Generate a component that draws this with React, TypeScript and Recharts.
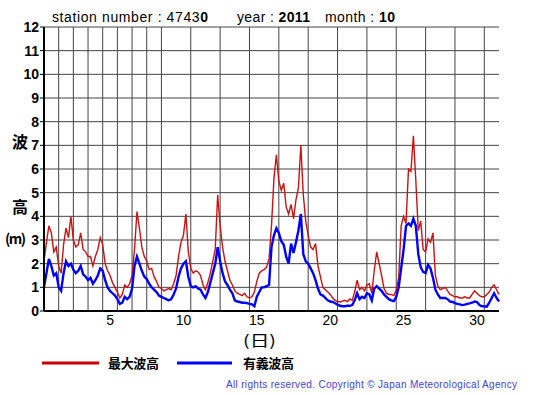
import { CartesianGrid, Line, LineChart, XAxis, YAxis } from "recharts";

// 4-hourly readings, Oct 1 00:00 .. Oct 31 24:00 (one row per day)
const maxWave = [
  2.1, 2.9, 3.6, 3.3, 2.5, 2.7,
  1.9, 1.6, 2.8, 3.5, 3.1, 4.0,
  3.0, 2.7, 2.8, 3.3, 2.6, 2.5,
  2.3, 2.3, 1.9, 2.3, 2.6, 3.1,
  2.8, 2.0, 1.7, 1.5, 1.2, 1.0,
  0.8, 0.55, 0.7, 1.1, 1.0, 1.15,
  1.5, 2.6, 4.2, 3.5, 2.7, 2.3,
  2.1, 1.75, 1.8, 1.45, 1.25, 1.0,
  0.95, 0.85, 0.9, 0.95, 0.9, 1.15,
  1.5, 2.3, 2.9, 3.2, 4.1, 2.5,
  1.8, 1.6, 1.7, 1.65, 1.5, 1.1,
  0.9, 1.2, 1.6, 2.1, 2.6, 4.9,
  3.6, 2.7, 2.1, 1.7, 1.3, 1.1,
  0.85, 0.75, 0.7, 0.65, 0.75, 0.6,
  0.55, 0.6, 0.8, 1.25, 1.6, 1.7,
  1.75, 1.85, 2.2, 3.6, 5.6, 6.6,
  5.5, 5.1, 5.4, 4.4, 4.1, 4.5,
  3.9, 4.7, 5.2, 7.0, 4.9, 3.8,
  3.2, 2.7, 2.6, 2.85, 1.9, 1.45,
  1.0, 0.9, 0.8, 0.7, 0.55, 0.45,
  0.4, 0.38, 0.42, 0.45, 0.4, 0.5,
  0.45, 0.8, 1.3, 0.9, 1.0, 0.85,
  1.1, 1.15, 0.75, 1.7, 2.5, 2.0,
  1.5, 0.95, 0.75, 0.7, 0.7, 0.65,
  0.9, 1.4, 3.6, 4.0, 3.7, 6.0,
  5.9, 7.4, 5.5, 3.4, 3.8, 2.6,
  2.5, 3.05, 2.9, 3.3, 1.5, 1.05,
  0.9, 0.95, 1.0, 0.85, 0.7, 0.65,
  0.6, 0.6, 0.55, 0.55, 0.6, 0.55,
  0.55, 0.7, 0.85, 0.75, 0.65, 0.6,
  0.6, 0.7, 0.8, 1.0, 1.1, 0.9,
  0.7,
];

const sigWave = [
  1.0, 1.6, 2.2, 1.9, 1.5, 1.6,
  1.0, 0.85, 1.6, 2.1, 1.9, 2.0,
  1.75, 1.6, 1.7, 1.9, 1.55, 1.45,
  1.3, 1.4, 1.15, 1.3, 1.5, 1.8,
  1.7, 1.3, 1.0, 0.85, 0.75, 0.65,
  0.5, 0.3, 0.35, 0.6, 0.5, 0.6,
  0.95, 1.9, 2.3, 2.0, 1.7, 1.45,
  1.35, 1.15, 1.0, 0.9, 0.8, 0.65,
  0.6, 0.55, 0.5, 0.45, 0.5, 0.7,
  0.95, 1.45, 1.8, 2.0, 2.1, 1.45,
  1.05, 1.0, 1.05, 0.95, 0.9, 0.7,
  0.55, 0.8, 1.2, 1.6, 2.0, 2.7,
  2.1, 1.6, 1.25, 1.1, 0.9, 0.75,
  0.45, 0.4, 0.38, 0.35, 0.35, 0.33,
  0.3, 0.28, 0.2, 0.6, 0.8, 1.0,
  1.0, 1.05, 1.1, 2.7, 3.2, 3.5,
  3.3, 2.95, 2.8, 2.3, 2.0, 2.85,
  2.45, 2.9, 3.4, 4.1, 2.4, 2.1,
  2.0, 1.8, 1.6, 1.3, 0.95, 0.7,
  0.65, 0.55, 0.45, 0.4, 0.38, 0.33,
  0.27, 0.22, 0.2, 0.2, 0.22, 0.22,
  0.25, 0.45, 0.75, 0.5, 0.6, 0.55,
  0.75, 0.7, 0.45, 0.95, 1.05, 0.95,
  0.85, 0.7, 0.6, 0.5, 0.45, 0.42,
  0.6, 1.0, 1.8, 2.6, 3.6, 3.7,
  3.6, 3.9, 3.6, 2.4, 1.85, 1.65,
  1.6, 1.95, 1.8, 1.4, 0.9, 0.7,
  0.55, 0.55, 0.55, 0.5, 0.4, 0.38,
  0.33, 0.3, 0.28, 0.25, 0.27, 0.3,
  0.32, 0.35, 0.4, 0.38, 0.25, 0.2,
  0.2, 0.18, 0.35, 0.55, 0.75, 0.55,
  0.4,
];

const dayLabels = [5, 10, 15, 20, 25, 30];
const heightTicks = [0, 1, 2, 3, 4, 5, 6, 7, 8, 9, 10, 11, 12];
const dayLines = Array.from({ length: 30 }, (_, i) => (i + 1) * 24);

const data = maxWave.map((v, i) => ({ h: i * 4, max: v, sig: sigWave[i] }));

const W = 555;
const H = 395;

export default function App() {
  return (
    <div style={{ position: "absolute", left: 0, top: 0, width: W, height: H, background: "#fff" }}>
      <LineChart
        width={W}
        height={H}
        data={data}
        margin={{ top: 27, right: 56, left: 0, bottom: 54 }}
      >
        <CartesianGrid
          stroke="#444"
          strokeWidth={1}
          verticalValues={dayLines}
          horizontalValues={heightTicks}
        />
        <XAxis
          dataKey="h"
          type="number"
          domain={[0, 744]}
          ticks={dayLabels.map((d) => (d - 0.5) * 24)}
          tickFormatter={(h) => String(Math.round(h / 24 + 0.5))}
          tickLine={false}
          tickSize={0}
          tickMargin={4}
          height={30}
          axisLine={{ stroke: "#000", strokeWidth: 2 }}
          tick={{ fill: "#000", fontSize: 14, fontFamily: "Liberation Sans, Arial, sans-serif" }}
        />
        <XAxis
          xAxisId="top"
          orientation="top"
          dataKey="h"
          type="number"
          domain={[0, 744]}
          height={0}
          tick={false}
          tickLine={false}
          axisLine={{ stroke: "#000", strokeWidth: 1.5 }}
        />
        <YAxis
          type="number"
          domain={[0, 12]}
          ticks={heightTicks}
          interval={0}
          width={44}
          tickSize={4}
          tickMargin={1}
          tickLine={{ stroke: "#000" }}
          axisLine={{ stroke: "#000", strokeWidth: 2 }}
          tick={{ fill: "#000", fontSize: 14, fontWeight: "bold", fontFamily: "Liberation Sans, Arial, sans-serif" }}
        />
        <YAxis
          yAxisId="right"
          orientation="right"
          type="number"
          domain={[0, 12]}
          width={0}
          tick={false}
          tickLine={false}
          axisLine={{ stroke: "#000", strokeWidth: 1.5 }}
        />
        <Line
          type="linear"
          dataKey="max"
          stroke="#cc1111"
          strokeWidth={1.4}
          dot={false}
          isAnimationActive={false}
        />
        <Line
          type="linear"
          dataKey="sig"
          stroke="#0000ff"
          strokeWidth={2.4}
          dot={false}
          isAnimationActive={false}
        />
      </LineChart>

      <svg
        width={W}
        height={H}
        style={{ position: "absolute", left: 0, top: 0, pointerEvents: "none" }}
        fontFamily="Liberation Sans, Arial, sans-serif"
      >
        <text x={52} y={22} fontSize={14} fill="#000" textLength={156} lengthAdjust="spacing">
          station number : 4743<tspan fontWeight="bold">0</tspan>
        </text>
        <text x={237} y={22} fontSize={14} fill="#000" textLength={73} lengthAdjust="spacing">
          year : <tspan fontWeight="bold">2011</tspan>
        </text>
        <text x={325} y={22} fontSize={14} fill="#000" textLength={70} lengthAdjust="spacing">
          month : <tspan fontWeight="bold">10</tspan>
        </text>

        <g fontFamily="Noto Sans CJK JP, sans-serif" fontWeight="bold" fill="#000">
          <text x={20} y={148} fontSize={16} textAnchor="middle">波</text>
          <text x={20} y={213} fontSize={16} textAnchor="middle">高</text>
          <text x={5} y={244} fontSize={14} textLength={21} lengthAdjust="spacing">(m)</text>
          <text x={243} y={346} fontSize={15} fontWeight="normal" textLength={33} lengthAdjust="spacingAndGlyphs">(日)</text>

          <line x1={42} y1={363} x2={99} y2={363} stroke="#cc0000" strokeWidth={3} />
          <text x={108} y={368} fontSize={13} textLength={51} lengthAdjust="spacing">最大波高</text>
          <line x1={177} y1={363} x2={232} y2={363} stroke="#0000ff" strokeWidth={3} />
          <text x={243} y={368} fontSize={13} textLength={51} lengthAdjust="spacing">有義波高</text>
        </g>

        <text x={226} y={388} fontSize={10} fill="#4444dd" textLength={291} lengthAdjust="spacing">
          All rights reserved. Copyright © Japan Meteorological Agency
        </text>
      </svg>
    </div>
  );
}
